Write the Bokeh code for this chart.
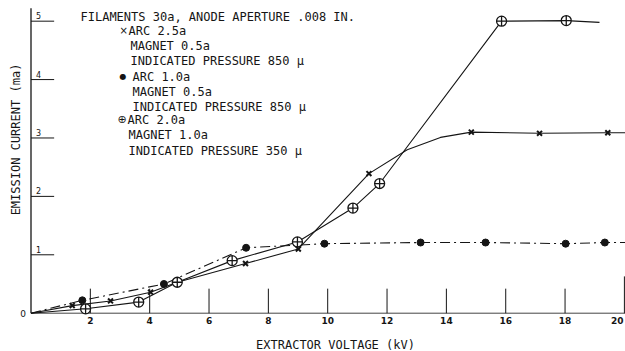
from bokeh.plotting import figure
from bokeh.models import Range1d, Label
from bokeh.embed import file_html
from bokeh.resources import INLINE
from bokeh.core.properties import value
import math

# ---- data ----
x_ticks = [2, 4, 6, 8, 10, 12, 14, 16, 18, 20]
x_tick_labels = ["2", "4", "6", "8", "10", "12", "14", "16", "18", "20"]
y_ticks = [1, 2, 3, 4, 5]
y_tick_labels = ["1", "2", "3", "4", "5"]

# ARC 2.5a (x markers)
arc25_kv = [1.39, 2.68, 4.03, 4.93, 7.23, 9.01, 11.39, 14.84, 17.14, 19.44]
arc25_ma = [0.13, 0.21, 0.36, 0.53, 0.85, 1.10, 2.39, 3.10, 3.08, 3.09]
arc25_curve_kv = [0, 1.39, 2.68, 4.03, 4.93, 7.23, 9.01, 11.39, 12.68, 13.80, 14.84, 17.14, 19.44, 20.1]
arc25_curve_ma = [0, 0.13, 0.21, 0.36, 0.53, 0.85, 1.10, 2.39, 2.80, 3.01, 3.10, 3.08, 3.09, 3.09]

# ARC 1.0a (dots)
arc10_kv = [1.73, 4.48, 7.25, 9.89, 13.13, 15.32, 18.02, 19.34]
arc10_ma = [0.22, 0.50, 1.12, 1.19, 1.21, 1.21, 1.19, 1.21]
arc10_curve_kv = [0, 1.73, 4.48, 7.25, 9.89, 13.13, 15.32, 18.02, 19.34, 20.1]
arc10_curve_ma = [0, 0.22, 0.50, 1.12, 1.19, 1.21, 1.21, 1.19, 1.21, 1.21]

# ARC 2.0a (circled crosses)
arc20_kv = [1.84, 3.63, 4.93, 6.78, 8.98, 10.85, 11.75, 15.86, 18.04]
arc20_ma = [0.075, 0.19, 0.53, 0.90, 1.22, 1.80, 2.22, 5.00, 5.01]
arc20_curve_kv = [0, 1.84, 3.63, 4.93, 6.78, 8.98, 10.85, 11.75, 15.86, 18.04, 19.16]
arc20_curve_ma = [0, 0.075, 0.19, 0.53, 0.90, 1.22, 1.80, 2.22, 5.00, 5.01, 4.98]

legend_lines = [
    "FILAMENTS 30a, ANODE APERTURE .008 IN.",
    "ARC 2.5a", "MAGNET 0.5a", "INDICATED PRESSURE 850 \u03bc",
    "ARC 1.0a", "MAGNET 0.5a", "INDICATED PRESSURE 850 \u03bc",
    "ARC 2.0a", "MAGNET 1.0a", "INDICATED PRESSURE 350 \u03bc",
]

INK = "#151515"
FONT = "DejaVu Sans Mono"
TFONT = "DejaVu Sans"
W, H = 625, 351

p = figure(width=W, height=H, output_backend="svg", toolbar_location=None,
           x_range=Range1d(-1.028, 20.037), y_range=Range1d(-0.656, 5.354),
           min_border=0, x_axis_type=None, y_axis_type=None)
p.grid.visible = False
p.outline_line_color = None
p.background_fill_color = "white"
p.border_fill_color = "white"

# axes lines
p.line(x=[0, 0], y=[0, 5.22], line_color=INK, line_width=1.3)
p.line(x=[0, 20.1], y=[0, 0], line_color="#444444", line_width=1)

# y ticks: short horizontal lines with labels above them
p.segment(x0=[0] * len(y_ticks), y0=y_ticks, x1=[0.78] * len(y_ticks), y1=y_ticks,
          line_color=INK, line_width=1)
p.text(x=[0] * len(y_ticks), y=y_ticks, text=y_tick_labels, x_offset=5, y_offset=-2,
       text_baseline="bottom", text_align="left", text_font=value(TFONT),
       text_font_size="8px", text_color=INK)
p.text(x=[0], y=[0], text=["0"], x_offset=-5, text_baseline="middle", text_align="right",
       text_font=value(TFONT), text_font_size="9px", text_color=INK)

# x ticks: vertical lines rising from the baseline
tick_tops = [0.42 if t != 20 else 0.63 for t in x_ticks]
p.segment(x0=x_ticks, y0=[0] * len(x_ticks), x1=x_ticks, y1=tick_tops,
          line_color=INK, line_width=1)
p.text(x=x_ticks[:-1], y=[0] * (len(x_ticks) - 1), text=x_tick_labels[:-1], y_offset=4,
       text_baseline="top", text_align="center", text_font=value(TFONT),
       text_font_size="9px", text_font_style="bold", text_color=INK)
p.text(x=x_ticks[-1:], y=[0], text=x_tick_labels[-1:], y_offset=4, x_offset=-1,
       text_baseline="top", text_align="right", text_font=value(TFONT),
       text_font_size="9px", text_font_style="bold", text_color=INK)

# curves
p.line(arc25_curve_kv, arc25_curve_ma, line_color=INK, line_width=1.1)
p.line(arc20_curve_kv, arc20_curve_ma, line_color=INK, line_width=1.1)
p.line(arc10_curve_kv, arc10_curve_ma, line_color=INK, line_width=1.1, line_dash="10 4 2 4")

# markers
p.scatter(arc25_kv, arc25_ma, marker="x", size=7, line_color=INK, line_width=2)
p.scatter(arc10_kv, arc10_ma, marker="circle", size=7, fill_color=INK, line_color=INK)
p.scatter(arc20_kv, arc20_ma, marker="circle_cross", size=10, fill_color="white",
          line_color=INK, line_width=1.3)

# legend text block (screen coords, y from bottom)
def lab(text, x, y, size="12px", angle=0.0, align="left", baseline="middle", font=FONT):
    p.add_layout(Label(x=x, y=y, x_units="screen", y_units="screen", text=text,
                       text_font=font, text_font_size=size, text_color=INK,
                       text_align=align, text_baseline=baseline, angle=angle))

def sy(page_y):
    return H - page_y

lab(legend_lines[0], 80, sy(16))
lab("\u00d7", 119, sy(30), size="10px", font=TFONT)
lab(legend_lines[1], 128, sy(30))
lab(legend_lines[2], 130, sy(45))
lab(legend_lines[3], 130, sy(60))
lab("\u25cf", 119, sy(76), size="8px", font=TFONT)
lab(legend_lines[4], 132, sy(76))
lab(legend_lines[5], 132, sy(91))
lab(legend_lines[6], 132, sy(106))
lab("\u2295", 117, sy(119), size="11px", font=TFONT)
lab(legend_lines[7], 127, sy(119))
lab(legend_lines[8], 128, sy(134))
lab(legend_lines[9], 128, sy(150))

# axis titles
lab("EMISSION CURRENT (ma)", 15, sy(139), size="12px", angle=math.pi / 2,
    align="center", baseline="middle")
lab("EXTRACTOR VOLTAGE (kV)", 335, sy(344), size="12px", align="center", baseline="middle")

open("out.html", "w").write(file_html(p, INLINE))
